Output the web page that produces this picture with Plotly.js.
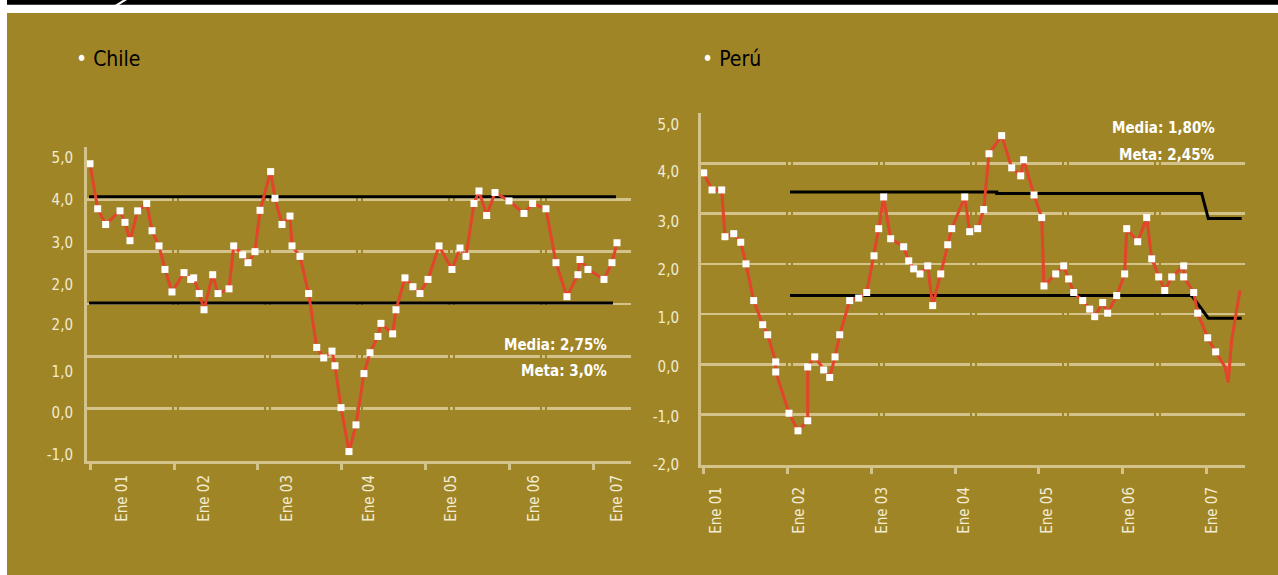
<!DOCTYPE html>
<html>
<head>
<meta charset="utf-8">
<script src="https://cdn.plot.ly/plotly-3.0.1.min.js"></script>
<style>html,body{margin:0;padding:0;background:#fff;}#chart{width:1278px;height:575px;}</style>
</head>
<body>
<div id="chart"></div>
<script>
// ---- Data (months since Jan 2001, inflation %) ----
const chileX = [0,1.1,2.24,4.29,5.0,5.71,6.81,8.1,8.86,9.86,10.71,11.71,13.43,14.39,14.81,15.61,16.29,17.53,18.29,19.86,20.53,21.81,22.57,23.57,24.29,25.81,26.43,27.43,28.57,28.86,30.0,31.24,32.39,33.39,34.57,35.0,35.86,37.0,38.0,39.14,40.0,41.14,41.57,43.24,43.71,45.0,46.14,47.14,48.29,49.86,51.71,52.86,53.71,54.86,55.57,56.67,57.86,59.86,62.0,63.24,65.14,66.57,68.14,69.71,70.0,71.14,73.43,74.57,75.29];
const chileY = [4.68,3.82,3.52,3.78,3.56,3.21,3.78,3.92,3.40,3.11,2.66,2.23,2.60,2.47,2.50,2.20,1.89,2.56,2.20,2.29,3.11,2.94,2.79,3.00,3.79,4.53,4.02,3.52,3.68,3.11,2.91,2.20,1.17,0.97,1.10,0.82,0.02,-0.82,-0.31,0.67,1.07,1.38,1.63,1.43,1.89,2.50,2.33,2.20,2.47,3.11,2.66,3.07,2.91,3.92,4.16,3.69,4.13,3.97,3.73,3.92,3.82,2.79,2.14,2.56,2.85,2.66,2.47,2.79,3.17];
const chileUpperX = [-0.14, 75.14], chileUpperY = [4.05, 4.05];
const chileLowerX = [-0.14, 74.71], chileLowerY = [2.02, 2.02];

const peruX = [0.1,1.29,2.67,3.14,4.39,5.39,6.14,7.24,8.53,9.24,10.39,10.39,12.29,13.57,14.96,14.96,15.96,17.24,18.1,18.86,19.53,20.96,22.24,23.39,24.43,25.1,25.81,26.81,28.67,29.39,30.1,31.0,32.1,32.81,33.96,34.96,35.53,37.39,38.1,39.24,40.1,40.86,42.67,44.1,45.39,45.81,47.29,48.39,48.71,50.39,51.53,52.24,52.96,54.24,55.24,55.96,57.1,57.81,59.1,60.24,60.53,62.1,63.39,64.1,65.1,65.96,66.96,68.67,68.67,70.1,70.67,72.1,73.24];
const peruY = [3.81,3.47,3.47,2.54,2.60,2.43,2.00,1.27,0.79,0.59,0.05,-0.15,-0.97,-1.32,-1.12,-0.05,0.15,-0.11,-0.26,0.15,0.59,1.27,1.32,1.43,2.16,2.70,3.33,2.50,2.34,2.06,1.90,1.80,1.96,1.17,1.80,2.38,2.70,3.33,2.64,2.70,3.08,4.19,4.55,3.91,3.75,4.07,3.37,2.92,1.56,1.80,1.96,1.70,1.43,1.27,1.10,0.95,1.23,1.02,1.37,1.80,2.70,2.44,2.92,2.10,1.74,1.47,1.74,1.96,1.74,1.43,1.02,0.53,0.25];
const peruTailX = [74.57,75.04,75.53,76.71];
const peruTailY = [-0.05,-0.36,0.49,1.47];
const peruUpperX = [12.43,41.96,41.96,71.24,72.19,76.96], peruUpperY = [3.43,3.43,3.40,3.40,2.90,2.90];
const peruLowerX = [12.43,69.81,72.19,76.96], peruLowerY = [1.37,1.37,0.92,0.92];

// ---- Tick labels ----
const xLabels = ['Ene 01','Ene 02','Ene 03','Ene 04','Ene 05','Ene 06','Ene 07'];
const yearTicks = [0,12,24,36,48,60,72];
const chileXLabelPos = [4.57,16.3,28.1,39.9,51.6,63.4,75.3];
const peruXLabelPos = [1.9,13.7,25.6,37.3,49.1,60.9,72.7];
const chileYLabels = ['5,0','4,0','3,0','2,0','2,0','1,0','0,0','-1,0'];
const chileYLabelPos = [4.79,3.99,3.17,2.37,1.60,0.70,-0.08,-0.89];
const peruYLabels = ['5,0','4,0','3,0','2,0','1,0','0,0','-1,0','-2,0'];
const peruYLabelPos = [4.76,3.83,2.83,1.88,0.92,-0.05,-1.05,-2.0];
const chileStats = ['Media: 2,75%','Meta: 3,0%'];
const peruStats = ['Media: 1,80%','Meta: 2,45%'];

// ---- Styles ----
const W = 1278, H = 575;
const px = v => v / W, py = v => 1 - v / H;
const OLIVE = '#9F8526', GRID = '#D3C38A', RED = '#E2442C', TICKTXT = '#F3ECD2';
const FONT = 'DejaVu Sans Condensed, Liberation Sans Narrow, sans-serif';

const chileXR = [-0.4286, 77.29], chileYR = [-1, 5.0001];
const peruXR = [-0.2857, 77.43], peruYR = [-2, 5.0001];
const chileXD = [px(87), px(631)], chileYD = [py(461), py(147)];
const peruXD = [px(701), px(1245)], peruYD = [py(465), py(113)];

const baseX = (dom, rng, anchor) => ({domain: dom, range: rng, anchor: anchor, tickvals: yearTicks,
  ticks: 'outside', ticklen: 6, tickwidth: 3, tickcolor: GRID, showticklabels: false,
  showgrid: false, zeroline: false, showline: true, linecolor: GRID, linewidth: 3, fixedrange: true});
const baseY = (dom, rng, anchor) => ({domain: dom, range: rng, anchor: anchor, dtick: 1, tick0: 0,
  ticks: '', showticklabels: false, showgrid: true, gridcolor: GRID, gridwidth: 2.5,
  griddash: '85px,2px,3px,2px', zeroline: false, showline: true, linecolor: GRID, linewidth: 3, fixedrange: true});
const labX = (over, rng, anchor, pos, len) => ({overlaying: over, range: rng, anchor: anchor, side: 'bottom',
  tickmode: 'array', tickvals: pos, ticktext: xLabels, tickangle: -90, ticks: 'outside', ticklen: len,
  tickcolor: 'rgba(0,0,0,0)', tickfont: {family: FONT, size: 15, color: TICKTXT},
  showgrid: false, zeroline: false, showline: false, fixedrange: true});
const labY = (over, rng, anchor, pos, txt, len) => ({overlaying: over, range: rng, anchor: anchor, side: 'left',
  tickmode: 'array', tickvals: pos, ticktext: txt, ticks: 'outside', ticklen: len,
  tickcolor: 'rgba(0,0,0,0)', tickfont: {family: FONT, size: 15, color: TICKTXT},
  showgrid: false, zeroline: false, showline: false, fixedrange: true});

const band = (x, y, xa, ya) => ({x: x, y: y, xaxis: xa, yaxis: ya, type: 'scatter', mode: 'lines',
  line: {color: '#000', width: 3}, hoverinfo: 'skip', showlegend: false});
const lineTr = (x, y, xa, ya) => ({x: x, y: y, xaxis: xa, yaxis: ya, type: 'scatter', mode: 'lines',
  line: {color: RED, width: 3}, hoverinfo: 'skip', showlegend: false});
const markTr = (x, y, xa, ya) => ({x: x, y: y, xaxis: xa, yaxis: ya, type: 'scatter', mode: 'markers',
  marker: {symbol: 'square', size: 7, color: '#fff', line: {width: 0}}, hoverinfo: 'skip', showlegend: false});

const data = [
  band(chileUpperX, chileUpperY, 'x', 'y'),
  band(chileLowerX, chileLowerY, 'x', 'y'),
  band(peruUpperX, peruUpperY, 'x2', 'y2'),
  band(peruLowerX, peruLowerY, 'x2', 'y2'),
  lineTr(chileX, chileY, 'x3', 'y3'),
  markTr(chileX, chileY, 'x3', 'y3'),
  lineTr(peruX.concat(peruTailX), peruY.concat(peruTailY), 'x4', 'y4'),
  markTr(peruX, peruY, 'x4', 'y4')
];

const title = (t, x, y) => ({xref: 'paper', yref: 'paper', x: x, y: y, xanchor: 'left', yanchor: 'middle',
  showarrow: false, text: '<span style="color:#ffffff">•</span> ' + t, font: {family: FONT, size: 21, color: '#000'}});
const stat = (t, x, y) => ({xref: 'paper', yref: 'paper', x: x, y: y, xanchor: 'right', yanchor: 'middle',
  showarrow: false, text: '<b>' + t + '</b>', font: {family: FONT, size: 15, color: '#fff'}});

const layout = {
  width: W, height: H, margin: {l: 0, r: 0, t: 0, b: 0},
  paper_bgcolor: '#ffffff', plot_bgcolor: 'rgba(0,0,0,0)', showlegend: false,
  xaxis: baseX(chileXD, chileXR, 'y'),
  yaxis: baseY(chileYD, chileYR, 'x'),
  xaxis2: baseX(peruXD, peruXR, 'y2'),
  yaxis2: baseY(peruYD, peruYR, 'x2'),
  xaxis3: labX('x', chileXR, 'y3', chileXLabelPos, 7),
  yaxis3: labY('y', chileYR, 'x3', chileYLabelPos, chileYLabels, 10),
  xaxis4: labX('x2', peruXR, 'y4', peruXLabelPos, 15),
  yaxis4: labY('y2', peruYR, 'x4', peruYLabelPos, peruYLabels, 18),
  shapes: [
    {type: 'rect', xref: 'paper', yref: 'paper', x0: px(7), x1: 1, y0: 0, y1: py(13), fillcolor: OLIVE, line: {width: 0}, layer: 'below'},
    {type: 'rect', xref: 'paper', yref: 'paper', x0: px(7), x1: 1, y0: py(4.7), y1: 1, fillcolor: '#000', line: {width: 0}, layer: 'below'},
    {type: 'path', xref: 'paper', yref: 'paper', path: 'M ' + px(115) + ' ' + py(5) + ' L ' + px(119) + ' ' + py(5) + ' L ' + px(127) + ' ' + py(0) + ' L ' + px(123) + ' ' + py(0) + ' Z', fillcolor: '#fff', line: {width: 0}, layer: 'below'}
  ],
  annotations: [
    title('Chile', px(74), py(59)),
    title('Perú', px(700), py(59)),
    stat(chileStats[0], px(609), py(345)),
    stat(chileStats[1], px(609), py(371)),
    stat(peruStats[0], px(1217), py(128)),
    stat(peruStats[1], px(1217), py(155))
  ]
};

Plotly.newPlot('chart', data, layout, {staticPlot: true, displayModeBar: false});
</script>
</body>
</html>
